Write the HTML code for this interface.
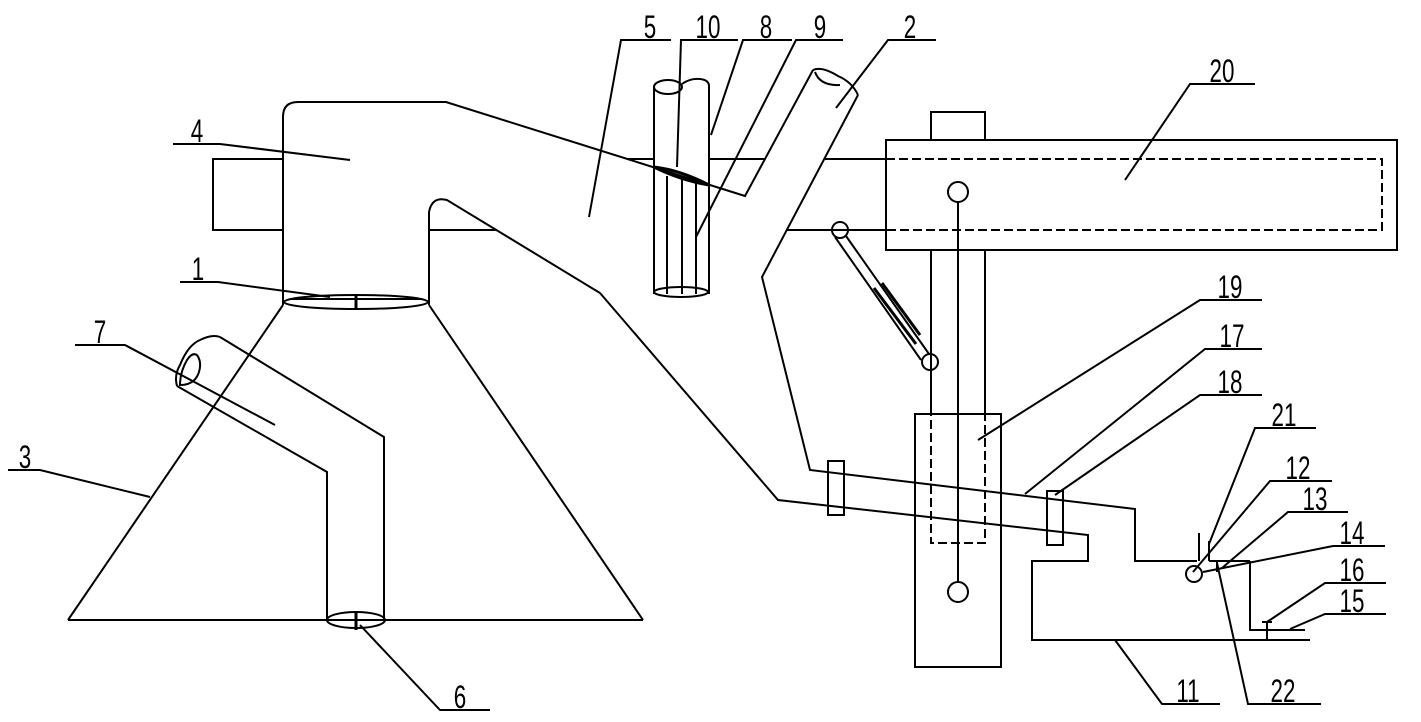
<!DOCTYPE html>
<html><head><meta charset="utf-8"><style>
html,body{margin:0;padding:0;background:#fff;}
svg{display:block;}
text{font-family:"Liberation Sans",sans-serif;font-size:32px;fill:#000;}
</style></head><body>
<svg width="1421" height="722" viewBox="0 0 1421 722" xmlns="http://www.w3.org/2000/svg">
<g fill="none" stroke="#000" stroke-width="2">
<!-- left beam stub -->
<polyline points="283,159 213,159 213,230 283,230"/>
<line x1="429" y1="230" x2="497" y2="230"/>
<!-- main duct -->
<path d="M283,305 L283,117 Q283,102 298,102 L446,102 L745,196 L813,70"/>
<path d="M429,305 L429,212 Q432,196 447,200 L600,293 L778,500 L1088,535 L1088,561 L1032,561 L1032,640 L1310,640"/>
<!-- pipe 2 -->
<path d="M858,95 L762,277 L810,470 L1135,509 L1135,561 L1197,561"/>
<path d="M813,70 Q822,66 838,76 Q852,82 858,95"/>
<path d="M815,72 Q820,86 840,85"/>
<line x1="1209" y1="561" x2="1250" y2="561"/>
<polyline points="1250,561 1250,630 1305,630"/>
<!-- horizontal beam lines to box 20 -->
<line x1="627" y1="159" x2="653" y2="159"/>
<line x1="709" y1="159" x2="765" y2="159"/>
<line x1="825" y1="159" x2="886" y2="159"/>
<line x1="787" y1="230" x2="886" y2="230"/>
<!-- box 20 -->
<rect x="931" y="112" width="54" height="28"/>
<rect x="886" y="140" width="511" height="110"/>
<polyline points="886,159 1382,159 1382,230 886,230" stroke-dasharray="9,4"/>
<!-- column -->
<line x1="931" y1="250" x2="931" y2="414"/>
<line x1="985" y1="250" x2="985" y2="414"/>
<line x1="958" y1="202" x2="958" y2="582"/>
<circle cx="958" cy="192" r="10"/>
<circle cx="958" cy="592" r="10"/>
<rect x="915" y="414" width="86" height="253"/>
<rect x="931" y="414" width="54" height="129" stroke-dasharray="9,4"/>
<!-- hydraulic cylinder -->
<circle cx="840" cy="230" r="8"/>
<circle cx="930" cy="362" r="8"/>
<line x1="835" y1="237" x2="921" y2="360"/>
<line x1="846" y1="236" x2="929" y2="354"/>
<line x1="874" y1="288" x2="916" y2="344" stroke-width="3"/>
<line x1="882" y1="283" x2="920" y2="335" stroke-width="3"/>
<!-- slider blocks -->
<rect x="828" y="461" width="16" height="54"/>
<rect x="1047" y="491" width="16" height="54"/>
<!-- pin 12 -->
<circle cx="1194" cy="574" r="8"/>
<line x1="1203" y1="572" x2="1333" y2="546"/>
<line x1="1333" y1="546" x2="1385" y2="546"/>
<line x1="1199" y1="533" x2="1199" y2="561"/>
<line x1="1209" y1="541" x2="1209" y2="561"/>
<line x1="1217" y1="562" x2="1217" y2="572"/>
<line x1="1267" y1="622" x2="1267" y2="640"/>
<line x1="1262" y1="622" x2="1272" y2="622"/>
<!-- vertical pipe 10/8 -->
<line x1="654" y1="86" x2="654" y2="294"/>
<line x1="709" y1="86" x2="709" y2="294"/>
<ellipse cx="668" cy="87" rx="14" ry="7"/>
<path d="M682,84 Q690,78 700,79 Q709,80 709,86"/>
<line x1="667" y1="176" x2="667" y2="294"/>
<line x1="682" y1="178" x2="682" y2="294"/>
<line x1="696" y1="182" x2="696" y2="294"/>
<ellipse cx="681" cy="292" rx="27" ry="5"/>
<path d="M654,167 Q680,170 709,185 Q680,180 654,167 Z" stroke-width="3"/>
<!-- ellipse 1 & cone 3 -->
<ellipse cx="356" cy="302" rx="72" ry="7"/>
<line x1="290" y1="299" x2="422" y2="299"/>
<line x1="356" y1="295" x2="356" y2="310" stroke-width="3"/>
<line x1="283" y1="305" x2="68" y2="620"/>
<line x1="429" y1="305" x2="643" y2="620"/>
<line x1="68" y1="620" x2="643" y2="620"/>
<!-- pipe 7 -->
<path d="M220,337 L384,437 L384,620"/>
<path d="M177,386 L327,472 L327,620"/>
<path d="M177,386 Q174,375 180,365 Q188,345 200,340 Q212,334 220,337"/>
<path d="M197,355 Q192,352 187,360 Q180,372 180,385 Q195,385 199,372 Q202,362 197,355"/>
<ellipse cx="356" cy="620" rx="29" ry="8"/>
<line x1="356" y1="611" x2="356" y2="630" stroke-width="3"/>
<!-- leaders -->
<polyline points="671,40 621,40 589,217"/>
<polyline points="738,40 681,40 677,167"/>
<polyline points="792,40 743,40 711,135"/>
<polyline points="843,40 796,40 696,237"/>
<polyline points="936,40 888,40 836,108"/>
<polyline points="1255,84 1190,84 1125,180"/>
<polyline points="173,144 220,144 350,160"/>
<polyline points="180,282 218,282 330,297"/>
<polyline points="75,345 125,345 275,425"/>
<polyline points="8,470 40,470 150,497"/>
<polyline points="360,625 440,710 490,710"/>
<polyline points="1262,300 1200,300 978,440"/>
<polyline points="1262,349 1205,349 1025,494"/>
<polyline points="1262,395 1200,395 1055,495"/>
<polyline points="1316,428 1255,428 1209,544"/>
<polyline points="1332,481 1270,481 1193,572"/>
<polyline points="1348,512 1288,512 1222,568"/>
<polyline points="1386,583 1325,583 1267,622"/>
<polyline points="1386,614 1325,614 1290,629"/>
<polyline points="1220,704 1162,704 1115,640"/>
<polyline points="1321,704 1248,704 1217,563"/>
</g>
<g text-anchor="middle">
<text x="650" y="38" transform="translate(650,0) scale(0.7,1) translate(-650,0)">5</text>
<text x="708" y="38" transform="translate(708,0) scale(0.7,1) translate(-708,0)">10</text>
<text x="766" y="38" transform="translate(766,0) scale(0.7,1) translate(-766,0)">8</text>
<text x="820" y="38" transform="translate(820,0) scale(0.7,1) translate(-820,0)">9</text>
<text x="910" y="38" transform="translate(910,0) scale(0.7,1) translate(-910,0)">2</text>
<text x="1222" y="82" transform="translate(1222,0) scale(0.7,1) translate(-1222,0)">20</text>
<text x="197" y="142" transform="translate(197,0) scale(0.7,1) translate(-197,0)">4</text>
<text x="198" y="280" transform="translate(198,0) scale(0.7,1) translate(-198,0)">1</text>
<text x="100" y="343" transform="translate(100,0) scale(0.7,1) translate(-100,0)">7</text>
<text x="25" y="468" transform="translate(25,0) scale(0.7,1) translate(-25,0)">3</text>
<text x="460" y="708" transform="translate(460,0) scale(0.7,1) translate(-460,0)">6</text>
<text x="1230" y="298" transform="translate(1230,0) scale(0.7,1) translate(-1230,0)">19</text>
<text x="1232" y="347" transform="translate(1232,0) scale(0.7,1) translate(-1232,0)">17</text>
<text x="1230" y="393" transform="translate(1230,0) scale(0.7,1) translate(-1230,0)">18</text>
<text x="1284" y="426" transform="translate(1284,0) scale(0.7,1) translate(-1284,0)">21</text>
<text x="1298" y="479" transform="translate(1298,0) scale(0.7,1) translate(-1298,0)">12</text>
<text x="1315" y="510" transform="translate(1315,0) scale(0.7,1) translate(-1315,0)">13</text>
<text x="1352" y="544" transform="translate(1352,0) scale(0.7,1) translate(-1352,0)">14</text>
<text x="1352" y="581" transform="translate(1352,0) scale(0.7,1) translate(-1352,0)">16</text>
<text x="1352" y="612" transform="translate(1352,0) scale(0.7,1) translate(-1352,0)">15</text>
<text x="1188" y="702" transform="translate(1188,0) scale(0.7,1) translate(-1188,0)">11</text>
<text x="1283" y="702" transform="translate(1283,0) scale(0.7,1) translate(-1283,0)">22</text>
</g>
</svg>
</body></html>
